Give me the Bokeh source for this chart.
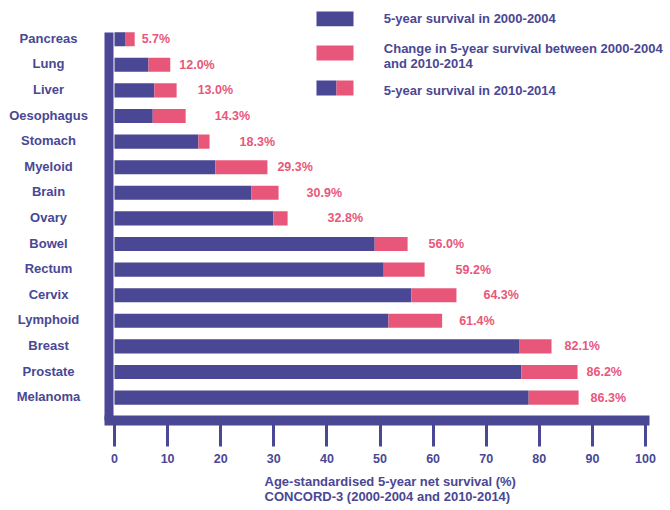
from bokeh.plotting import figure
from bokeh.models import Range1d, FixedTicker, ColumnDataSource, LabelSet, Label, Title
from bokeh.core.properties import value
from bokeh.embed import file_html
from bokeh.resources import INLINE

# ---------------- data ----------------
cancers = ["Pancreas", "Lung", "Liver", "Oesophagus", "Stomach", "Myeloid", "Brain",
           "Ovary", "Bowel", "Rectum", "Cervix", "Lymphoid", "Breast", "Prostate", "Melanoma"]
survival_2000_2004 = [2.1, 6.4, 7.5, 7.2, 15.8, 19.0, 25.8, 29.9, 49.0, 50.7, 55.9, 51.6, 76.3, 76.6, 78.0]
survival_2010_2014 = [3.8, 10.5, 11.7, 13.4, 17.9, 28.8, 30.9, 32.6, 55.2, 58.4, 64.4, 61.7, 82.3, 87.2, 87.4]
value_labels = ["5.7%", "12.0%", "13.0%", "14.3%", "18.3%", "29.3%", "30.9%", "32.8%",
                "56.0%", "59.2%", "64.3%", "61.4%", "82.1%", "86.2%", "86.3%"]
x_ticks = [0, 10, 20, 30, 40, 50, 60, 70, 80, 90, 100]
legend_labels = ["5-year survival in 2000-2004",
                 "Change in 5-year survival between 2000-2004",
                 "and 2010-2014",
                 "5-year survival in 2010-2014"]
axis_title = ["Age-standardised 5-year net survival (%)",
              "CONCORD-3 (2000-2004 and 2010-2014)"]

# ---------------- styles / geometry ----------------
DARK = "#4a4794"
PINK = "#e8577a"
FONT = "Liberation Sans"
label_gap_px = [7, 9, 21, 29, 30, 10, 28, 40, 21, 31, 27, 17, 13, 9, 12]

X0, PPU = 114.0, 5.31      # px of value 0, px per unit
Y0, ROW = 38.7, 25.6       # px of first row centre, px per row
W, H = 666, 510
FB = 420                   # frame bottom (centre of the bottom bar)


def dx(px):
    return (px - X0) / PPU


def dy(py):
    return (py - Y0) / ROW


p = figure(width=W, height=H,
           x_range=Range1d(dx(0), dx(W)), y_range=Range1d(dy(FB), dy(0)),
           output_backend="svg", toolbar_location=None,
           min_border_left=0, min_border_right=0, min_border_top=0,
           min_border_bottom=H - FB)
p.xgrid.visible = False
p.ygrid.visible = False
p.yaxis.visible = False
p.outline_line_color = None
p.background_fill_color = "white"
p.border_fill_color = "white"

rows = list(range(len(cancers)))
src = ColumnDataSource(dict(cancer=cancers, row=rows, s2000=survival_2000_2004,
                            s2010=survival_2010_2014, label=value_labels, gap=label_gap_px))

p.hbar(y="row", left=0, right="s2000", height=0.55, fill_color=DARK, line_color=None, source=src)
p.hbar(y="row", left="s2000", right="s2010", height=0.55, fill_color=PINK, line_color=None, source=src)

# vertical axis bar
p.quad(left=dx(104), right=dx(113), top=dy(32), bottom=dy(425), fill_color=DARK, line_color=None)

p.add_layout(LabelSet(x="s2010", y="row", text="label", x_offset="gap", source=src,
                      text_align="left", text_baseline="middle", text_font=value(FONT),
                      text_font_size=value("12.5px"), text_font_style="bold", text_color=PINK))
p.add_layout(LabelSet(x=dx(48), y="row", text="cancer", source=src, y_offset=1,
                      text_align="center", text_baseline="middle", text_font=value(FONT),
                      text_font_size=value("13px"), text_font_style="bold", text_color=DARK))

# x axis (its line is the bottom bar)
xa = p.xaxis[0]
xa.ticker = FixedTicker(ticks=x_ticks)
xa.bounds = (dx(104), dx(649))
xa.axis_line_width = 10
xa.axis_line_color = DARK
xa.major_tick_out = 26
xa.major_tick_in = 0
xa.major_tick_line_width = 3
xa.major_tick_line_color = DARK
xa.minor_tick_line_color = None
xa.major_label_standoff = 7
xa.major_label_text_font = FONT
xa.major_label_text_font_size = "12.5px"
xa.major_label_text_font_style = "bold"
xa.major_label_text_color = DARK

# axis title (two lines)
p.add_layout(Title(text="\n".join(axis_title), align="left", offset=264, standoff=14,
                   text_font=FONT, text_font_size="13px", text_font_style="bold",
                   text_color=DARK, text_line_height=0.95), "below")

# legend
p.quad(left=[dx(316), dx(316), dx(316), dx(336)],
       right=[dx(353), dx(353), dx(336), dx(353)],
       top=[dy(11), dy(45), dy(80), dy(80)],
       bottom=[dy(25.7), dy(60), dy(95), dy(95)],
       fill_color=[DARK, PINK, DARK, PINK], line_color=None)
for txt, py in zip(legend_labels, [18.3, 47.7, 63.3, 90]):
    p.add_layout(Label(x=dx(383.3), y=dy(py), text=txt, text_align="left", text_baseline="middle",
                       text_font=FONT, text_font_size="13px", text_font_style="bold", text_color=DARK))

open("out.html", "w").write(file_html(p, INLINE))
